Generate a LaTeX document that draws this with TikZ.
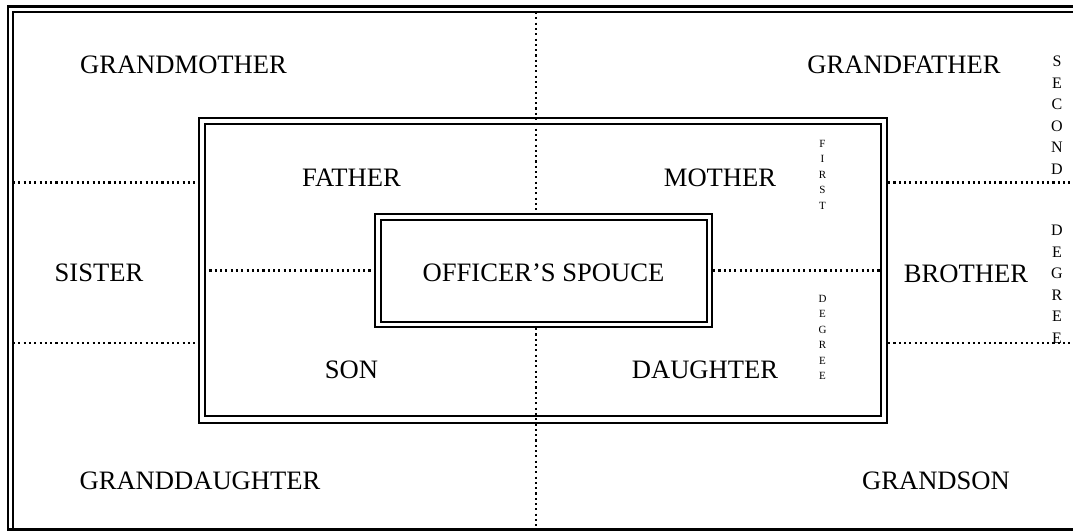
\documentclass[tikz,border=0pt]{standalone}
\usepackage{fontspec}
\setmainfont{Liberation Serif}
\begin{document}
\begin{tikzpicture}[x=1pt, y=-1pt,
		lbl/.style = {font=\fontsize{26.6}{30}\selectfont, inner sep=0pt},
		column/.style = {anchor=north, align=center, inner sep=0pt, font=\fontsize{16}{21.5}\selectfont},
		smallcolumn/.style = {anchor=north, align=center, inner sep=0pt, font=\fontsize{11}{15.5}\selectfont},
		box/.style = {draw, line width=2.3pt, inner sep=0pt},
		boxin/.style = {draw, line width=1.7pt, inner sep=0pt},
		divider/.style = {line width=2.1pt, dash pattern=on 2.1pt off 3.2pt}]
			\useasboundingbox (0,0) rectangle (1073,531);
			\draw[line width=2.3pt] (1073,6.5) -| (8,529.5) -- (1073,529.5);
			\draw[line width=1.7pt] (1073,12) -| (13,529.5);
			
			\node[box, minimum width=688, minimum height=305] (mid) at (543,270.5) {};
			\node[boxin, minimum width=676, minimum height=292] (midin) at (543,270) {};
			\node[box, minimum width=337, minimum height=113, lbl] (spouse) at (543.5,270.5) {};
			\node[boxin, minimum width=326, minimum height=102] (spousein) at (544,271) {};
			\node[lbl] (officer) at (543.5,273) {OFFICER’S SPOUCE};
			
			\coordinate (top) at (536,12);
			\coordinate (bot) at (536,529.5);
			\coordinate (l1) at (13,182.5);
			\coordinate (l2) at (13,343);
			\coordinate (r1) at (1073,182.5);
			\coordinate (r2) at (1073,343);
			\draw[divider] (top) -- (top |- spouse.north);
			\draw[divider] (bot |- spouse.south) -- (bot);
			\draw[divider] (l1) -- (l1 -| mid.west);
			\draw[divider] (l2) -- (l2 -| mid.west);
			\draw[divider] (r1 -| mid.east) -- (r1);
			\draw[divider] (r2 -| mid.east) -- (r2);
			\draw[divider] (midin.west |- spouse.west) -- (spouse.west);
			\draw[divider] (spouse.east) -- (midin.east |- spouse.east);
			
			\node[lbl] (gmother) at (183.5,65.3) {GRANDMOTHER};
			\node[lbl] (gfather) at (904,65.3) {GRANDFATHER};
			\node[lbl] (father) at (351.5,177.5) {FATHER};
			\node[lbl] (mother) at (720,177.5) {MOTHER};
			\node[lbl] (sister) at (99,273) {SISTER};
			\node[lbl] (brother) at (966,274) {BROTHER};
			\node[lbl] (son) at (351.5,369.7) {SON};
			\node[lbl] (daughter) at (705,369.7) {DAUGHTER};
			\node[lbl] (gdaughter) at (200,481.3) {GRANDDAUGHTER};
			\node[lbl] (gson) at (936,481.3) {GRANDSON};
			
			\node[smallcolumn] (first) at (822.5,140) {F\\I\\R\\S\\T};
			\node[smallcolumn] (firstdeg) at (822.5,295) {D\\E\\G\\R\\E\\E};
			\node[column] (second) at (1057,56) {S\\E\\C\\O\\N\\D};
			\node[column] (seconddeg) at (1057,225) {D\\E\\G\\R\\E\\E};
\end{tikzpicture}
\end{document}
